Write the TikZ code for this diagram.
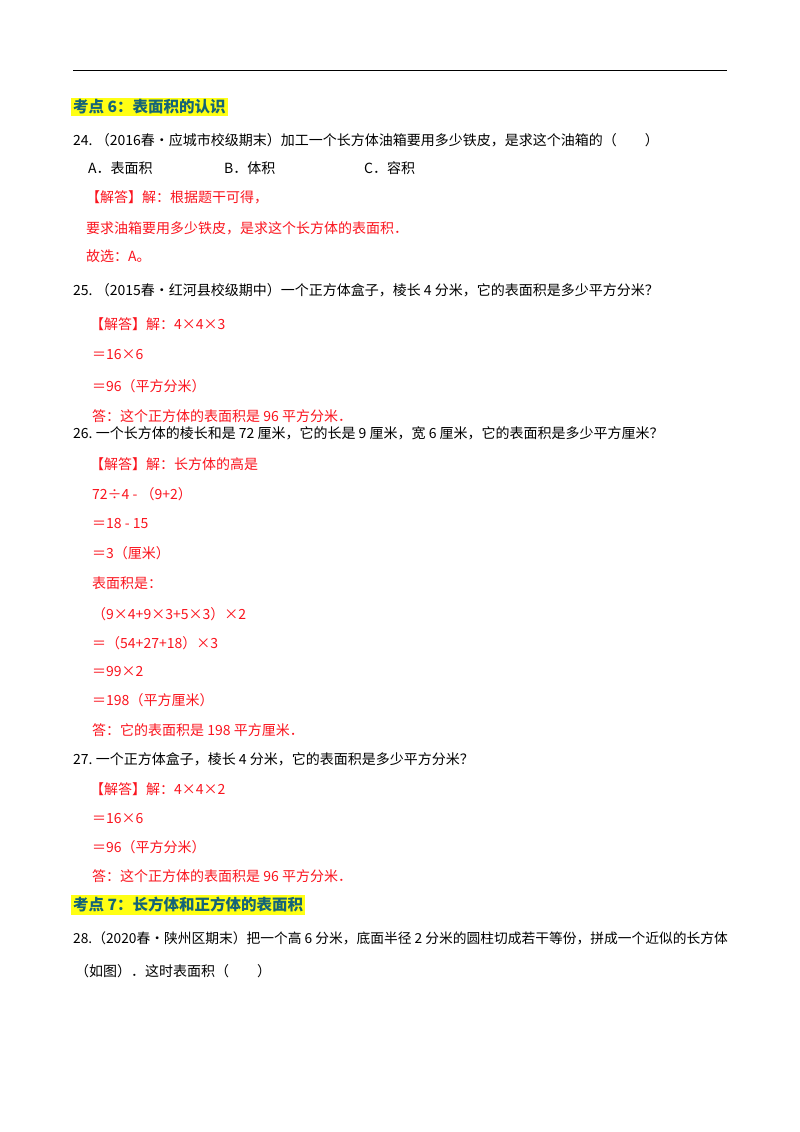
\documentclass[tikz,border=0pt]{standalone}
\usepackage{fontspec}
\setmainfont{Noto Sans CJK SC}
\definecolor{ansred}{RGB}{250,20,30}
\definecolor{headteal}{RGB}{20,100,120}
\definecolor{hilite}{RGB}{255,255,20}
\tikzset{
  txt/.style={anchor=west, inner sep=0pt, font=\fontsize{14}{14}\selectfont},
  ans/.style={txt, text=ansred},
  head/.style={anchor=west, inner sep=2pt, fill=hilite, text=headteal, font=\fontsize{15.5}{15.5}\selectfont\bfseries}
}
\begin{document}
\begin{tikzpicture}[x=1pt,y=-1pt]
    \useasboundingbox (0,0) rectangle (800,1132);
    \draw[line width=1pt] (73,71) -- (727,71);

    \node[head] (k6) at (71,107) {考点 6：表面积的认识};
    \node[txt] (q24) at (73,140) {24.\ （2016春•应城市校级期末）加工一个长方体油箱要用多少铁皮，是求这个油箱的（\quad\quad）};
    \node[txt] (oa) at (88,168) {A．表面积};
    \node[txt] (ob) at (224,168) {B．体积};
    \node[txt] (oc) at (364,168) {C．容积};
    \node[ans] (a24a) at (86,197) {【解答】解：根据题干可得，};
    \node[ans] (a24b) at (86,228) {要求油箱要用多少铁皮，是求这个长方体的表面积．};
    \node[ans] (a24c) at (86,256) {故选：\textit{A}。};

    \node[txt] (q25) at (73,290) {25.\ （2015春•红河县校级期中）一个正方体盒子，棱长 4 分米，它的表面积是多少平方分米？};
    \node[ans] (a25a) at (90,324) {【解答】解：4×4×3};
    \node[ans] (a25b) at (92,355) {＝16×6};
    \node[ans] (a25c) at (92,386) {＝96（平方分米）};
    \node[ans] (a25d) at (92,416) {答：这个正方体的表面积是 96 平方分米．};

    \node[txt] (q26) at (73,433) {26.\ 一个长方体的棱长和是 72 厘米，它的长是 9 厘米，宽 6 厘米，它的表面积是多少平方厘米？};
    \node[ans] (a26a) at (90,464) {【解答】解：长方体的高是};
    \foreach \y/\s [count=\i] in {494/72÷4 - （9+2）, 524/＝18 - 15, 553/＝3（厘米）, 583/表面积是：,
        614/（9×4+9×3+5×3）×2, 643/＝（54+27+18）×3, 672/＝99×2, 700/＝198（平方厘米）,
        730/答：它的表面积是 198 平方厘米．}
      \node[ans] (a26s\i) at (92,\y) {\s};

    \node[txt] (q27) at (73,759) {27.\ 一个正方体盒子，棱长 4 分米，它的表面积是多少平方分米？};
    \node[ans] (a27a) at (90,789) {【解答】解：4×4×2};
    \node[ans] (a27b) at (92,818) {＝16×6};
    \node[ans] (a27c) at (92,847) {＝96（平方分米）};
    \node[ans] (a27d) at (92,876) {答：这个正方体的表面积是 96 平方分米．};

    \node[head] (k7) at (71,905) {考点 7：长方体和正方体的表面积};
    \node[txt, font=\fontsize{13.75}{14}\selectfont] (q28a) at (73,938) {28.（2020春•陕州区期末）把一个高 6 分米，底面半径 2 分米的圆柱切成若干等份，拼成一个近似的长方体};
    \node[txt] (q28b) at (75,971) {（如图）．这时表面积（\quad\quad）};
\end{tikzpicture}
\end{document}
